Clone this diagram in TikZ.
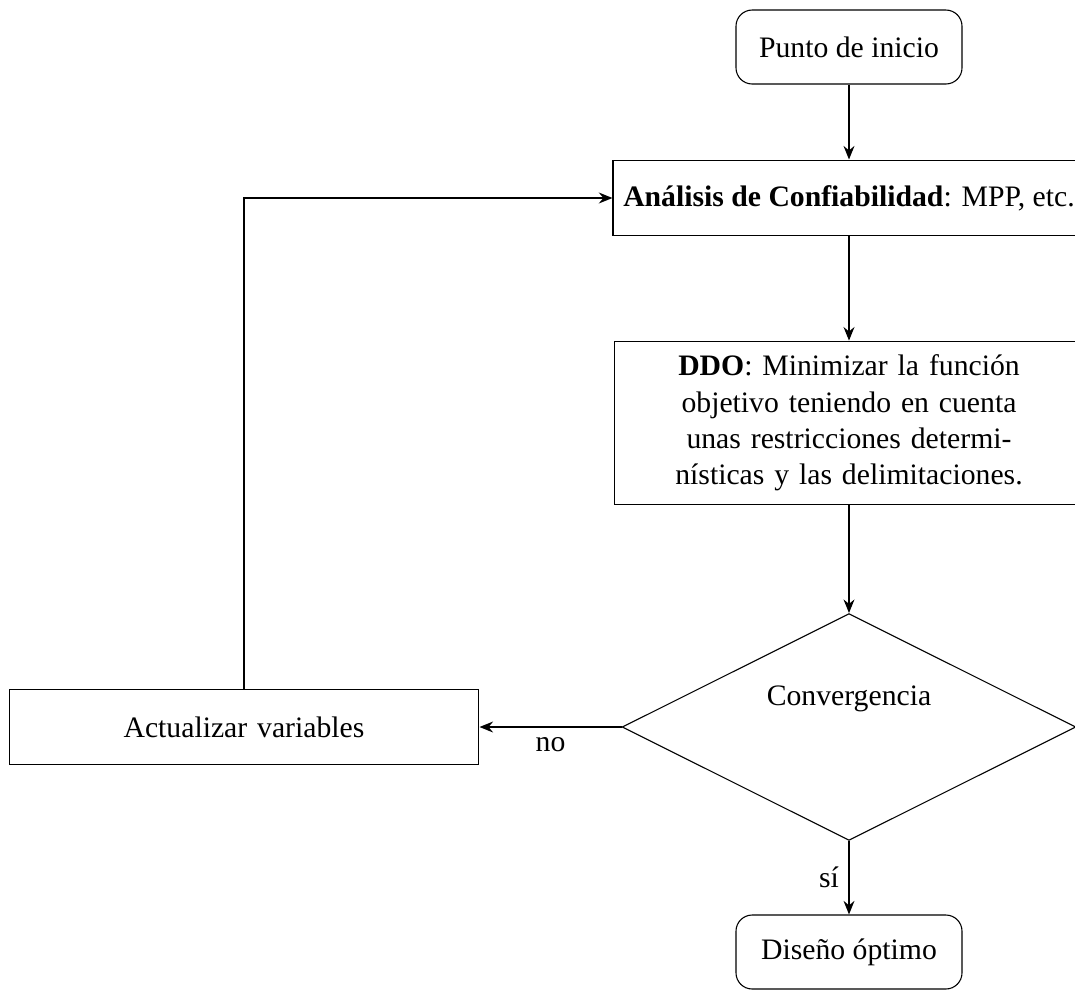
\documentclass[tikz,border=0pt]{standalone}
\usepackage{fontspec}
\setmainfont{Liberation Serif}
\usetikzlibrary{arrows.meta,calc,shapes.geometric}
\tikzset{
  startstop/.style={draw,rounded corners=6pt,minimum width=83.7pt,minimum height=27.4pt,inner sep=2pt},
  block/.style={draw,text width=164pt,align=center,minimum height=28.1pt,inner sep=5pt},
  wideblock/.style={draw,minimum width=174.8pt,minimum height=28.1pt,inner xsep=2pt},
  decision/.style={draw,diamond,minimum width=168pt,minimum height=84pt,inner sep=0pt},
  link/.style={->,thick},
}

\begin{document}
\begin{tikzpicture}[x=0.01302cm,y=-0.01302cm,>={Stealth[length=5pt,width=4pt]},font=\fontsize{11}{13.5}\selectfont]
  \useasboundingbox (0,0) rectangle (1075,991);

  \node[startstop] (inicio) at (849,47) {Punto de inicio};
  \node[wideblock] (analisis) at (849,198) {\textbf{Análisis de Confiabilidad}: MPP, etc.};
  \node[block] (ddo) at (849,423) {\textbf{DDO}: Minimizar la función objetivo teniendo en cuenta unas restricciones determi\-nísticas y las delimitaciones.};
  \node[decision] (conv) at (849,727) {};
  \node (convtext) at (849,699) {Convergencia};
  \node[block] (actual) at (244,727) {Actualizar variables};
  \node[startstop] (diseno) at (849,952) {Diseño óptimo};

  \draw[link] (inicio) -- (analisis);
  \draw[link] (analisis) -- (ddo);
  \draw[link] (ddo) -- (conv);
  \draw[link] (conv.west) -- node[below] {no} (actual.east);
  \draw[link] (conv.south) -- node[left] {sí} (diseno);
  \draw[link] (actual.north) |- (analisis.west);
\end{tikzpicture}
\end{document}
